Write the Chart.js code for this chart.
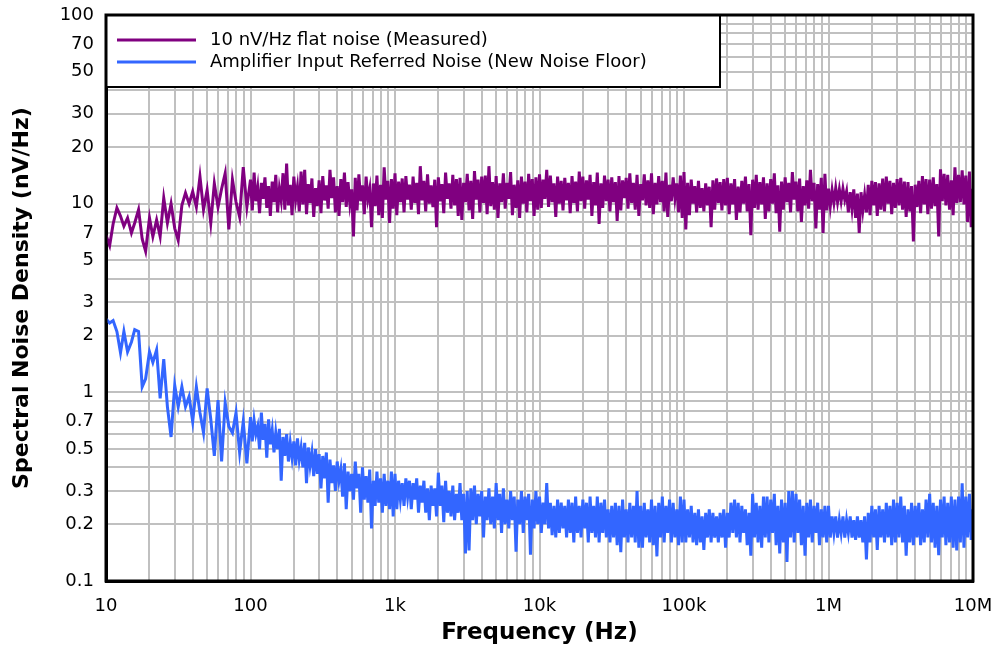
<!DOCTYPE html>
<html lang="en">
<head>
    <meta charset="UTF-8">
    <title>Spectral Noise Density</title>
    <script src="https://cdn.jsdelivr.net/npm/chart.js"></script>
    <style>
        body { margin: 0; background: #fff; }
        #noiseChart { display: block; }
    </style>
</head>
<body>
    <canvas id="noiseChart" width="1000" height="649"></canvas>

    <script>
        // frequency steps: 40 per decade below 100 Hz, 80 per decade above
        const steps40 = [1.00, 1.06, 1.12, 1.19, 1.26, 1.33, 1.41, 1.50, 1.58, 1.68,
                         1.78, 1.88, 2.00, 2.11, 2.24, 2.37, 2.51, 2.66, 2.82, 2.99,
                         3.16, 3.35, 3.55, 3.76, 3.98, 4.22, 4.47, 4.73, 5.01, 5.31,
                         5.62, 5.96, 6.31, 6.68, 7.08, 7.50, 7.94, 8.41, 8.91, 9.44];
        const steps80 = [1.000, 1.029, 1.059, 1.090, 1.122, 1.155, 1.189, 1.223, 1.259, 1.296,
                         1.334, 1.372, 1.413, 1.454, 1.496, 1.540, 1.585, 1.631, 1.679, 1.728,
                         1.778, 1.830, 1.884, 1.939, 1.995, 2.054, 2.113, 2.175, 2.239, 2.304,
                         2.371, 2.441, 2.512, 2.585, 2.661, 2.738, 2.818, 2.901, 2.985, 3.073,
                         3.162, 3.255, 3.350, 3.447, 3.548, 3.652, 3.758, 3.868, 3.981, 4.097,
                         4.217, 4.340, 4.467, 4.597, 4.732, 4.870, 5.012, 5.158, 5.309, 5.464,
                         5.623, 5.788, 5.957, 6.131, 6.310, 6.494, 6.683, 6.879, 7.079, 7.286,
                         7.499, 7.718, 7.943, 8.175, 8.414, 8.660, 8.913, 9.173, 9.441, 9.716];
        const lowDecade = 10;
        const highDecades = [100, 1000, 10000, 100000, 1000000];
        const lastFreq = 10000000;

        // 10 nV/Hz flat noise (Measured), one array per decade
        const flat10Hz = [6.8, 6.0, 7.8, 9.5, 8.6, 7.6, 8.4, 7.0, 7.9, 9.3, 6.5, 5.6, 8.4, 6.7, 8.2, 6.7, 10.7, 7.9, 10.0, 7.4,
                          6.4, 9.8, 11.4, 10.0, 11.6, 9.6, 13.9, 9.3, 11.8, 7.9, 12.8, 9.6, 12.0, 14.5, 7.3, 13.4, 10.2, 8.5, 15.6, 9.6];
        const flat100Hz = [13.4, 9.2, 14.6, 10.3, 12.2, 8.9, 12.9, 10.6, 13.8, 9.5, 12.4, 8.6, 13.1, 10.2, 14.2, 9.0, 12.0, 10.4, 14.5, 9.3,
                           16.3, 9.8, 12.6, 8.7, 13.9, 10.5, 12.3, 9.1, 14.8, 9.9, 15.1, 8.8, 12.7, 10.1, 13.6, 8.5, 12.1, 9.7, 13.3, 8.9,
                           14.0, 10.4, 12.5, 9.4, 15.1, 10.7, 13.8, 9.0, 12.4, 8.6, 13.5, 10.2, 14.6, 9.6, 13.0, 10.0, 11.9, 6.7, 13.7, 9.2,
                           14.3, 10.3, 12.5, 8.8, 13.9, 10.6, 12.0, 7.5, 12.8, 9.7, 14.1, 8.7, 12.6, 8.4, 15.6, 10.5, 13.2, 7.9, 13.5, 9.4];
        const flat1kHz = [14.5, 8.7, 13.1, 10.2, 13.6, 9.0, 14.0, 10.5, 12.6, 9.3, 13.9, 10.1, 12.9, 8.8, 15.8, 10.4, 13.2, 9.1, 14.3, 10.0,
                          12.5, 9.6, 13.4, 7.5, 13.8, 10.3, 12.7, 8.9, 14.6, 10.6, 12.8, 9.4, 14.2, 9.8, 13.5, 8.6, 13.7, 8.2, 12.9, 10.2,
                          14.4, 9.2, 13.2, 8.3, 14.9, 10.5, 13.4, 9.0, 13.9, 10.1, 14.1, 8.8, 15.8, 9.7, 13.0, 9.3, 14.0, 8.4, 12.8, 10.2,
                          14.5, 9.4, 12.9, 10.6, 14.7, 8.7, 12.6, 9.5, 13.3, 8.4, 13.9, 10.0, 13.1, 9.0, 14.4, 10.3, 13.5, 8.6, 13.8, 9.3];
        const flat10kHz = [14.3, 9.5, 13.4, 10.6, 15.1, 9.6, 14.1, 10.2, 12.8, 8.5, 13.9, 10.0, 13.2, 9.2, 13.7, 10.4, 12.9, 8.9, 14.0, 10.1,
                           13.1, 9.1, 14.8, 10.3, 13.9, 9.4, 13.3, 10.5, 14.2, 8.6, 13.0, 9.8, 14.6, 7.8, 12.8, 9.5, 14.1, 10.3, 13.4, 9.1,
                           13.8, 10.2, 13.0, 8.1, 14.0, 9.2, 13.3, 10.7, 13.7, 9.4, 14.5, 10.1, 12.9, 9.3, 14.2, 8.6, 12.7, 10.4, 14.3, 9.8,
                           13.3, 9.5, 14.5, 8.8, 12.9, 9.9, 14.0, 10.2, 13.2, 9.1, 14.6, 8.5, 12.6, 10.3, 13.8, 10.7, 12.8, 9.0, 14.1, 8.4];
        const flat100kHz = [14.7, 7.3, 12.9, 8.7, 13.4, 10.0, 12.4, 9.0, 13.2, 9.5, 12.1, 9.1, 12.8, 9.8, 12.3, 7.5, 13.3, 9.3, 13.6, 10.1,
                            13.0, 9.2, 13.5, 9.8, 13.7, 8.8, 12.8, 9.9, 13.5, 8.2, 12.3, 9.0, 13.2, 10.0, 13.9, 9.1, 12.7, 6.8, 13.4, 9.5,
                            14.2, 9.3, 13.0, 9.9, 13.8, 8.3, 12.8, 9.1, 13.5, 10.0, 14.5, 8.9, 12.5, 7.1, 13.1, 9.3, 13.8, 10.2, 12.9, 9.0,
                            14.7, 10.5, 13.1, 9.1, 13.6, 8.0, 12.4, 9.8, 13.3, 9.4, 15.1, 10.3, 12.9, 7.4, 12.7, 9.3, 13.7, 7.0, 14.4, 9.2];
        const flat1MHz = [12.0, 9.7, 11.8, 10.1, 12.1, 10.2, 11.9, 10.3, 12.0, 10.5, 11.6, 9.0, 11.5, 9.4, 11.9, 8.4, 11.3, 7.0, 11.5, 9.2,
                          11.1, 9.0, 12.6, 8.7, 13.2, 9.8, 13.0, 8.6, 12.8, 9.3, 13.6, 9.1, 13.9, 10.0, 13.2, 8.8, 12.9, 9.5, 13.5, 9.8,
                          13.7, 9.3, 13.1, 8.5, 13.0, 9.1, 12.4, 6.3, 12.6, 9.6, 13.2, 8.9, 14.0, 9.9, 13.5, 8.8, 13.4, 9.4, 13.8, 9.7,
                          12.7, 6.7, 15.2, 10.3, 14.4, 9.8, 14.2, 9.3, 13.3, 8.7, 15.6, 10.1, 14.2, 10.2, 15.0, 9.9, 14.1, 8.0, 14.8, 7.5];
        const flatEnd = 12.0;

        // Amplifier Input Referred Noise (New Noise Floor), one array per decade
        const amp10Hz = [2.45, 2.33, 2.40, 2.10, 1.62, 2.10, 1.64, 1.85, 2.15, 2.10, 1.07, 1.18, 1.64, 1.44, 1.68, 0.93, 1.50, 0.84, 0.58, 1.09,
                         0.84, 1.07, 0.84, 0.95, 0.70, 1.07, 0.78, 0.61, 1.05, 0.72, 0.46, 0.91, 0.43, 0.88, 0.66, 0.61, 0.78, 0.48, 0.70, 0.42];
        const amp100Hz = [0.74, 0.55, 0.71, 0.60, 0.66, 0.50, 0.78, 0.56, 0.68, 0.45, 0.72, 0.53, 0.63, 0.48, 0.61, 0.50, 0.64, 0.34, 0.58, 0.46,
                          0.60, 0.43, 0.54, 0.45, 0.55, 0.41, 0.57, 0.44, 0.51, 0.40, 0.54, 0.33, 0.51, 0.41, 0.48, 0.36, 0.50, 0.37, 0.47, 0.31,
                          0.46, 0.35, 0.48, 0.26, 0.44, 0.33, 0.41, 0.30, 0.43, 0.34, 0.39, 0.28, 0.42, 0.24, 0.38, 0.30, 0.37, 0.27, 0.43, 0.31,
                          0.37, 0.23, 0.40, 0.27, 0.36, 0.26, 0.39, 0.19, 0.34, 0.25, 0.38, 0.26, 0.35, 0.23, 0.37, 0.25, 0.34, 0.24, 0.38, 0.22];
        const amp1kHz = [0.37, 0.24, 0.34, 0.27, 0.33, 0.25, 0.35, 0.28, 0.34, 0.24, 0.33, 0.27, 0.35, 0.23, 0.32, 0.26, 0.34, 0.23, 0.31, 0.21,
                         0.32, 0.25, 0.31, 0.22, 0.375, 0.25, 0.32, 0.205, 0.34, 0.23, 0.30, 0.22, 0.32, 0.21, 0.29, 0.23, 0.33, 0.21, 0.29, 0.14,
                         0.30, 0.145, 0.31, 0.21, 0.32, 0.20, 0.29, 0.22, 0.30, 0.17, 0.28, 0.21, 0.31, 0.20, 0.28, 0.19, 0.33, 0.21, 0.29, 0.18,
                         0.31, 0.20, 0.27, 0.19, 0.30, 0.21, 0.28, 0.143, 0.27, 0.20, 0.30, 0.18, 0.28, 0.21, 0.29, 0.138, 0.27, 0.19, 0.30, 0.20];
        const amp10kHz = [0.28, 0.18, 0.26, 0.20, 0.33, 0.19, 0.26, 0.175, 0.25, 0.17, 0.27, 0.18, 0.26, 0.19, 0.25, 0.17, 0.27, 0.18, 0.26, 0.16,
                          0.28, 0.18, 0.25, 0.17, 0.27, 0.19, 0.26, 0.16, 0.28, 0.18, 0.25, 0.17, 0.28, 0.16, 0.26, 0.18, 0.27, 0.17, 0.24, 0.16,
                          0.25, 0.17, 0.26, 0.155, 0.25, 0.142, 0.27, 0.17, 0.24, 0.16, 0.26, 0.17, 0.25, 0.16, 0.30, 0.15, 0.25, 0.15, 0.26, 0.17,
                          0.24, 0.16, 0.27, 0.155, 0.25, 0.135, 0.26, 0.17, 0.28, 0.16, 0.25, 0.18, 0.27, 0.16, 0.26, 0.17, 0.24, 0.155, 0.28, 0.16];
        const amp100kHz = [0.27, 0.16, 0.24, 0.17, 0.25, 0.16, 0.23, 0.155, 0.24, 0.16, 0.22, 0.146, 0.23, 0.17, 0.24, 0.16, 0.23, 0.17, 0.22, 0.16,
                           0.23, 0.17, 0.24, 0.15, 0.23, 0.17, 0.26, 0.18, 0.27, 0.17, 0.26, 0.16, 0.25, 0.18, 0.24, 0.155, 0.23, 0.136, 0.29, 0.17,
                           0.26, 0.16, 0.25, 0.15, 0.28, 0.17, 0.28, 0.16, 0.27, 0.18, 0.29, 0.155, 0.25, 0.14, 0.27, 0.16, 0.26, 0.126, 0.30, 0.17,
                           0.30, 0.16, 0.29, 0.18, 0.27, 0.155, 0.25, 0.136, 0.26, 0.17, 0.27, 0.16, 0.25, 0.18, 0.26, 0.155, 0.24, 0.17, 0.25, 0.16];
        const amp1MHz = [0.25, 0.17, 0.22, 0.18, 0.22, 0.17, 0.21, 0.18, 0.22, 0.17, 0.21, 0.18, 0.22, 0.17, 0.21, 0.165, 0.22, 0.17, 0.21, 0.16,
                         0.22, 0.13, 0.23, 0.16, 0.25, 0.17, 0.24, 0.146, 0.25, 0.17, 0.24, 0.16, 0.26, 0.17, 0.25, 0.155, 0.27, 0.16, 0.26, 0.17,
                         0.28, 0.16, 0.25, 0.136, 0.24, 0.16, 0.26, 0.155, 0.25, 0.17, 0.26, 0.155, 0.24, 0.16, 0.27, 0.17, 0.29, 0.16, 0.26, 0.15,
                         0.25, 0.137, 0.27, 0.17, 0.28, 0.155, 0.26, 0.16, 0.28, 0.15, 0.27, 0.145, 0.28, 0.16, 0.33, 0.15, 0.28, 0.17, 0.29, 0.165];
        const ampEnd = 0.24;

        // axis ticks
        const gridSteps = [1, 2, 3, 4, 5, 6, 7, 8, 9];
        const xLabelValues = [10, 100, 1000, 10000, 100000, 1000000, 10000000];
        const xLabels = ['10', '100', '1k', '10k', '100k', '1M', '10M'];
        const yGridValues = [0.1, 0.2, 0.3, 0.4, 0.5, 0.6, 0.7, 0.8, 0.9,
                             1, 2, 3, 4, 5, 6, 7, 8, 9,
                             10, 20, 30, 40, 50, 60, 70, 80, 90, 100];
        const yLabelValues = [0.1, 0.2, 0.3, 0.5, 0.7, 1, 2, 3, 5, 7, 10, 20, 30, 50, 70, 100];

        const FONT = '"DejaVu Sans", "Liberation Sans", Arial, sans-serif';

        let freqs = steps40.map(m => m * lowDecade);
        highDecades.forEach(d => steps80.forEach(m => freqs.push(m * d)));
        freqs.push(lastFreq);

        const flatNoise = [...flat10Hz, ...flat100Hz, ...flat1kHz, ...flat10kHz, ...flat100kHz, ...flat1MHz, flatEnd];
        const ampNoise = [...amp10Hz, ...amp100Hz, ...amp1kHz, ...amp10kHz, ...amp100kHz, ...amp1MHz, ampEnd];

        let xGridValues = [];
        [lowDecade, ...highDecades].forEach(d => gridSteps.forEach(s => xGridValues.push(s * d)));
        xGridValues.push(lastFreq);

        // legend in a boxed panel + heavy frame round the plot
        const frameLegend = {
            id: 'frameLegend',
            afterDatasetsDraw(chart) {
                const ctx = chart.ctx;
                const a = chart.chartArea;
                ctx.save();
                const bx = a.left, by = a.top, bw = 614, bh = 72;
                ctx.fillStyle = '#fff';
                ctx.fillRect(bx, by, bw, bh);
                ctx.lineWidth = 2;
                ctx.strokeStyle = '#000';
                ctx.strokeRect(bx, by, bw, bh);

                ctx.font = '18px ' + FONT;
                ctx.textBaseline = 'middle';
                ctx.textAlign = 'left';
                chart.data.datasets.forEach((ds, i) => {
                    const y = by + 25 + i * 22;
                    ctx.strokeStyle = ds.borderColor;
                    ctx.lineWidth = 3;
                    ctx.beginPath();
                    ctx.moveTo(bx + 11, y);
                    ctx.lineTo(bx + 90, y);
                    ctx.stroke();
                    ctx.fillStyle = '#000';
                    ctx.fillText(ds.label, bx + 104, y);
                });

                ctx.lineWidth = 3;
                ctx.strokeStyle = '#000';
                ctx.strokeRect(a.left, a.top, a.right - a.left, a.bottom - a.top);
                ctx.restore();
            }
        };

        const toPoints = vals => vals.map((v, i) => ({ x: freqs[i], y: v }));

        new Chart(document.getElementById('noiseChart'), {
            type: 'line',
            data: {
                datasets: [{
                    label: '10 nV/Hz flat noise (Measured)',
                    data: toPoints(flatNoise),
                    borderColor: '#800080',
                    borderWidth: 3,
                    pointRadius: 0,
                    tension: 0,
                    fill: false
                }, {
                    label: 'Amplifier Input Referred Noise (New Noise Floor)',
                    data: toPoints(ampNoise),
                    borderColor: '#3366ff',
                    borderWidth: 3,
                    pointRadius: 0,
                    tension: 0,
                    fill: false
                }]
            },
            options: {
                responsive: false,
                devicePixelRatio: 1,
                animation: false,
                layout: { padding: { left: 0, top: 15, right: 27, bottom: 0 } },
                plugins: {
                    legend: { display: false },
                    tooltip: { enabled: false }
                },
                scales: {
                    x: {
                        type: 'logarithmic',
                        min: 10,
                        max: 10000000,
                        afterBuildTicks: s => { s.ticks = xGridValues.map(v => ({ value: v })); },
                        afterFit: s => {
                            s.height = 68;
                            s.paddingLeft = 0;
                            s.paddingRight = 0;
                        },
                        grid: { color: '#c0c0c0', lineWidth: 2, drawTicks: false },
                        border: { color: '#000', width: 3 },
                        ticks: {
                            autoSkip: false,
                            maxRotation: 0,
                            padding: 15,
                            color: '#000',
                            font: { family: FONT, size: 18 },
                            callback: v => {
                                const k = xLabelValues.indexOf(v);
                                return k < 0 ? '' : xLabels[k];
                            }
                        },
                        title: {
                            display: true,
                            text: 'Frequency (Hz)',
                            color: '#000',
                            font: { family: FONT, size: 23, weight: 'bold' },
                            padding: { top: 2, bottom: 2 }
                        }
                    },
                    y: {
                        type: 'logarithmic',
                        min: 0.1,
                        max: 100,
                        afterBuildTicks: s => { s.ticks = yGridValues.map(v => ({ value: v })); },
                        afterFit: s => {
                            s.width = 106;
                            s.paddingTop = 0;
                            s.paddingBottom = 0;
                        },
                        grid: { color: '#c0c0c0', lineWidth: 2, drawTicks: false },
                        border: { color: '#000', width: 3 },
                        ticks: {
                            autoSkip: false,
                            padding: 12,
                            color: '#000',
                            font: { family: FONT, size: 18 },
                            callback: v => yLabelValues.includes(v) ? String(v) : ''
                        },
                        title: {
                            display: true,
                            text: 'Spectral Noise Density (nV/Hz)',
                            color: '#000',
                            font: { family: FONT, size: 22, weight: 'bold' },
                            padding: { top: 9, bottom: 9 }
                        }
                    }
                }
            },
            plugins: [frameLegend]
        });
    </script>
</body>
</html>
